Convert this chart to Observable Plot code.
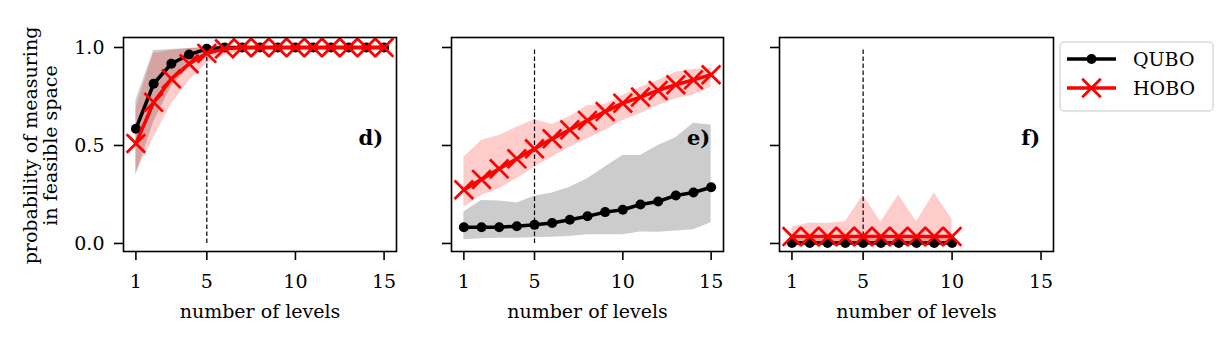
<!DOCTYPE html>
<html>
<head>
<meta charset="utf-8">
<script src="https://cdn.jsdelivr.net/npm/d3@7"></script>
<script src="https://cdn.jsdelivr.net/npm/@observablehq/plot@0.6"></script>
<style>
  html, body { margin: 0; padding: 0; background: #fff; }
  #chart { position: relative; width: 1232px; height: 344px; overflow: hidden; font-family: "DejaVu Serif", serif; }
  .panel { position: absolute; top: 0; }
  #legend { position: absolute; left: 1059px; top: 41px; }
</style>
</head>
<body>
<div id="chart"></div>
<script>
// ---------- data ----------
const levelsDE = [1, 2, 3, 4, 5, 6, 7, 8, 9, 10, 11, 12, 13, 14, 15];
const levelsF = [1, 2, 3, 4, 5, 6, 7, 8, 9, 10];

// panel d)
const quboMeanD = [0.585, 0.815, 0.917, 0.964, 0.993, 1, 1, 1, 1, 1, 1, 1, 1, 1, 1];
const quboLowD  = [0.35, 0.62, 0.80, 0.90, 0.96, 0.985, 0.995, 1, 1, 1, 1, 1, 1, 1, 1];
const quboHighD = [0.73, 0.985, 0.99, 0.995, 1, 1, 1, 1, 1, 1, 1, 1, 1, 1, 1];
const hoboMeanD = [0.51, 0.72, 0.84, 0.917, 0.97, 0.993, 1, 1, 1, 1, 1, 1, 1, 1, 1];
const hoboLowD  = [0.36, 0.54, 0.71, 0.83, 0.92, 0.96, 0.98, 0.99, 1, 1, 1, 1, 1, 1, 1];
const hoboHighD = [0.69, 0.97, 0.985, 0.995, 1, 1, 1, 1, 1, 1, 1, 1, 1, 1, 1];

// panel e)
const quboMeanE = [0.083, 0.083, 0.083, 0.088, 0.095, 0.104, 0.121, 0.139, 0.16, 0.172, 0.199, 0.214, 0.245, 0.26, 0.287];
const quboLowE  = [0.019, 0.024, 0.026, 0.027, 0.029, 0.032, 0.035, 0.044, 0.045, 0.044, 0.058, 0.057, 0.063, 0.07, 0.106];
const quboHighE = [0.16, 0.219, 0.217, 0.206, 0.241, 0.258, 0.287, 0.33, 0.39, 0.449, 0.449, 0.5, 0.539, 0.614, 0.605];
const hoboMeanE = [0.274, 0.327, 0.381, 0.432, 0.483, 0.534, 0.58, 0.628, 0.673, 0.716, 0.747, 0.781, 0.81, 0.835, 0.861];
const hoboLowE  = [0.185, 0.245, 0.279, 0.33, 0.39, 0.44, 0.491, 0.534, 0.577, 0.628, 0.662, 0.704, 0.738, 0.758, 0.797];
const hoboHighE = [0.44, 0.526, 0.551, 0.593, 0.631, 0.607, 0.648, 0.704, 0.709, 0.755, 0.797, 0.832, 0.874, 0.888, 0.894];

// panel f)
const quboMeanF = [0.002, 0.002, 0.002, 0.002, 0.002, 0.002, 0.002, 0.002, 0.002, 0.002];
const quboLowF  = [0, 0, 0, 0, 0, 0, 0, 0, 0, 0];
const quboHighF = [0.02, 0.02, 0.02, 0.022, 0.025, 0.02, 0.022, 0.02, 0.025, 0.02];
const hoboMeanF = [0.035, 0.035, 0.035, 0.035, 0.035, 0.035, 0.035, 0.035, 0.035, 0.035];
const hoboLowF  = [0, 0, 0, 0, 0, 0, 0, 0, 0, 0];
const hoboHighF = [0.083, 0.105, 0.102, 0.111, 0.245, 0.109, 0.247, 0.111, 0.257, 0.122];

const xTicks = [1, 5, 10, 15];
const yTicks = [0, 0.5, 1.0];
const panelTags = ["d)", "e)", "f)"];
const seriesNames = ["QUBO", "HOBO"];
const xLabel = "number of levels";
const yLabelLines = ["probability of measuring", "in feasible space"];
const thresholdLevel = 5;

// ---------- build ----------
const FONT = '"DejaVu Serif", serif';
const FS = 19;
const LW = 3.5;
const rows = (lv, m, lo, hi) => lv.map((x, i) => ({x, mean: m[i], lo: lo[i], hi: hi[i]}));

const panels = [
  {qubo: rows(levelsDE, quboMeanD, quboLowD, quboHighD), hobo: rows(levelsDE, hoboMeanD, hoboLowD, hoboHighD),
   tag: panelTags[0], left: 0, width: 400, ml: 123, mr: 4, showY: true},
  {qubo: rows(levelsDE, quboMeanE, quboLowE, quboHighE), hobo: rows(levelsDE, hoboMeanE, hoboLowE, hoboHighE),
   tag: panelTags[1], left: 400, width: 330, ml: 51, mr: 7, showY: false},
  {qubo: rows(levelsF, quboMeanF, quboLowF, quboHighF), hobo: rows(levelsF, hoboMeanF, hoboLowF, hoboHighF),
   tag: panelTags[2], left: 730, width: 330, ml: 49, mr: 7, showY: false}
];

const chart = document.getElementById("chart");

panels.forEach((p, idx) => {
  const svg = Plot.plot({
    width: p.width, height: 344,
    marginLeft: p.ml, marginRight: p.mr, marginTop: 37, marginBottom: 93,
    x: {domain: [0.3, 15.7]},
    y: {domain: [-0.041, 1.051]},
    style: {fontFamily: FONT, fontSize: FS + "px", color: "black", background: "transparent", overflow: "visible"},
    marks: [
      Plot.areaY(p.qubo, {x: "x", y1: "lo", y2: "hi", fill: "black", fillOpacity: 0.2}),
      Plot.areaY(p.hobo, {x: "x", y1: "lo", y2: "hi", fill: "red", fillOpacity: 0.2}),
      Plot.ruleX([thresholdLevel], {y1: 0, y2: 1, stroke: "black", strokeWidth: 1.2, strokeDasharray: "4.5,2.5"}),
      Plot.line(p.qubo, {x: "x", y: "mean", stroke: "black", strokeWidth: LW}),
      Plot.dot(p.qubo, {x: "x", y: "mean", r: 5, fill: "black", stroke: "none"}),
      Plot.line(p.hobo, {x: "x", y: "mean", stroke: "red", strokeWidth: LW}),
      Plot.dot(p.hobo, {x: "x", y: "mean", r: 8.5, symbol: "times", stroke: "red", strokeWidth: 2.7}),
      Plot.text([p.tag], {x: 14.95, y: 0.535, text: d => d, textAnchor: "end", fontWeight: "bold", fontSize: 21, fill: "black"}),
      Plot.axisX({ticks: xTicks, tickSize: 9, tickPadding: 14, strokeWidth: 1.6, fontSize: FS, label: null}),
      Plot.axisY({ticks: yTicks, tickSize: 9, tickPadding: 10, strokeWidth: 1.6, fontSize: FS, label: null,
                  tickFormat: p.showY ? d3.format(".1f") : () => ""}),
      Plot.text([xLabel], {frameAnchor: "bottom", dy: 66, fontSize: FS, fill: "black", text: d => d}),
      Plot.frame({stroke: "black", strokeWidth: 1.6})
    ]
  });
  svg.classList.add("panel");
  svg.style.left = p.left + "px";
  if (idx === 0) {
    const t = d3.select(svg).append("text")
      .attr("transform", "translate(37,145.5) rotate(-90)")
      .attr("text-anchor", "middle")
      .attr("font-family", FONT)
      .attr("font-size", FS)
      .attr("fill", "black");
    t.append("tspan").attr("x", 0).attr("y", 0).text(yLabelLines[0]);
    t.append("tspan").attr("x", 0).attr("y", 20).text(yLabelLines[1]);
  }
  chart.appendChild(svg);
});

// ---------- legend ----------
const lg = d3.select(chart).append("svg").attr("id", "legend")
  .attr("width", 156).attr("height", 72);
lg.append("rect").attr("x", 1).attr("y", 1).attr("width", 153).attr("height", 69)
  .attr("rx", 4).attr("fill", "white").attr("stroke", "#d9d9d9").attr("stroke-width", 1.5);
const entries = [
  {name: seriesNames[0], color: "black", sym: "dot", y: 18},
  {name: seriesNames[1], color: "red", sym: "times", y: 47}
];
entries.forEach(e => {
  lg.append("line").attr("x1", 8).attr("x2", 57).attr("y1", e.y).attr("y2", e.y)
    .attr("stroke", e.color).attr("stroke-width", LW);
  if (e.sym === "dot") {
    lg.append("circle").attr("cx", 32.5).attr("cy", e.y).attr("r", 5).attr("fill", e.color);
  } else {
    lg.append("path").attr("transform", `translate(32.5,${e.y})`)
      .attr("d", d3.symbol(d3.symbolTimes, Math.PI * 8.5 * 8.5)())
      .attr("stroke", e.color).attr("stroke-width", 2.7).attr("fill", "none");
  }
  lg.append("text").attr("x", 74).attr("y", e.y).attr("dy", "0.35em")
    .attr("font-family", FONT).attr("font-size", FS).attr("fill", "black").text(e.name);
});
</script>
</body>
</html>
